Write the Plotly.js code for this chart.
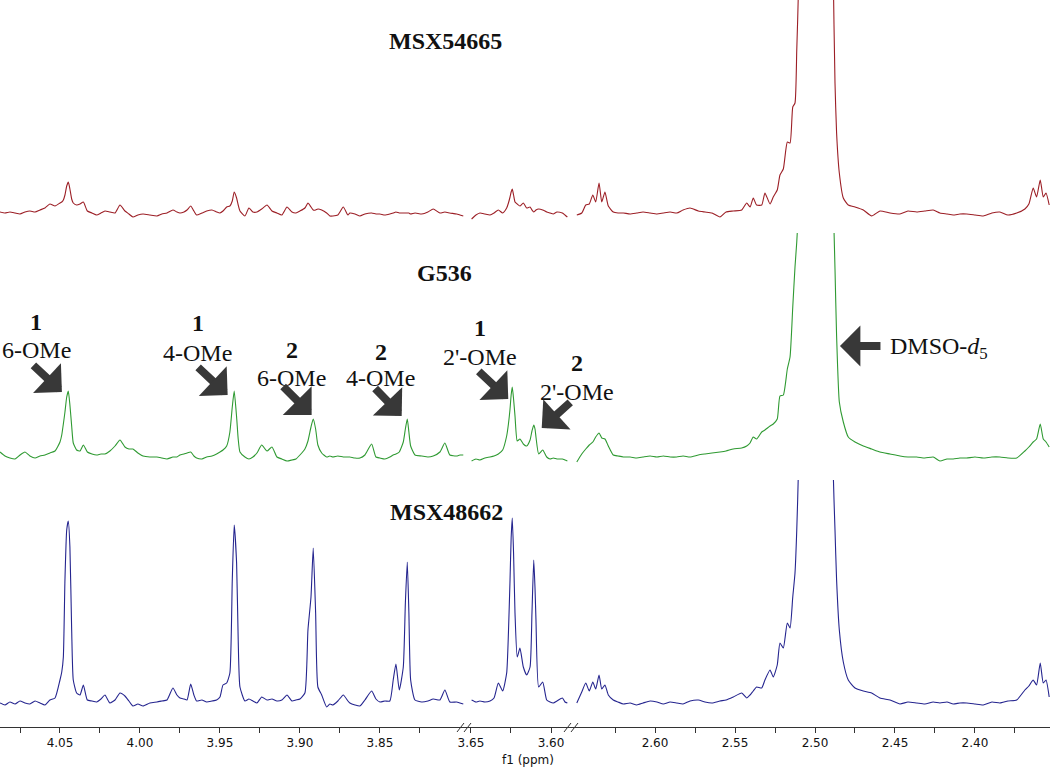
<!DOCTYPE html>
<html>
<head>
<meta charset="utf-8">
<script src="https://cdn.plot.ly/plotly-3.0.1.min.js"></script>
<style>
    html, body { margin: 0; padding: 0; background: #fff; }
    #chart { width: 1050px; height: 767px; }
</style>
</head>
<body>
<div id="chart"></div>
<script>
// ── 1H NMR (DMSO-d6), OMe region + solvent, three samples stacked ─────────

// chemical shift grids (ppm), one per axis segment
const leftShift = [
    4.0875, 4.0844, 4.0813, 4.0781, 4.0750, 4.0719, 4.0688, 4.0656, 4.0625, 4.0594, 4.0563, 4.0531,
    4.0500, 4.0489, 4.0479, 4.0469, 4.0458, 4.0448, 4.0438, 4.0427, 4.0417,
    4.0396, 4.0375, 4.0354, 4.0329, 4.0300, 4.0271, 4.0244, 4.0219, 4.0188, 4.0156, 4.0125, 4.0094, 4.0069, 4.0044, 4.0013, 3.9981, 3.9938, 3.9894, 3.9863, 3.9831,
    3.9794, 3.9769, 3.9750, 3.9725, 3.9706, 3.9683, 3.9663, 3.9646, 3.9613, 3.9583, 3.9550, 3.9521, 3.9500, 3.9481, 3.9458, 3.9438,
    3.9423, 3.9411, 3.9396, 3.9386, 3.9375,
    3.9344, 3.9319, 3.9294, 3.9269, 3.9239, 3.9206, 3.9175, 3.9144, 3.9113, 3.9081, 3.9050, 3.9025, 3.9000, 3.8969,
    3.8950, 3.8931, 3.8917, 3.8902, 3.8888, 3.8864, 3.8833, 3.8813, 3.8794, 3.8763, 3.8729, 3.8700,
    3.8688, 3.8656, 3.8625, 3.8594, 3.8552, 3.8525, 3.8500, 3.8469, 3.8438, 3.8417, 3.8400, 3.8379, 3.8354, 3.8341, 3.8329, 3.8319, 3.8308, 3.8281, 3.8239, 3.8200, 3.8167, 3.8125, 3.8094, 3.8063, 3.8021, 3.8000, 3.7979
];
const midShift = [
    3.6496, 3.6469, 3.6444, 3.6413, 3.6381, 3.6356, 3.6329, 3.6302, 3.6277, 3.6266, 3.6256,
    3.6249, 3.6242, 3.6234, 3.6225, 3.6211, 3.6194, 3.6173, 3.6152, 3.6131, 3.6119, 3.6108,
    3.6100, 3.6094, 3.6077, 3.6052, 3.6027, 3.6006, 3.5986, 3.5963, 3.5929, 3.5913, 3.5898
];
const rightShift = [
    2.6489, 2.6458, 2.6433, 2.6411, 2.6389, 2.6371, 2.6350, 2.6333, 2.6313, 2.6292,
    2.6261, 2.6231, 2.6198, 2.6156, 2.6114, 2.6075, 2.6031, 2.5988, 2.5948, 2.5906,
    2.5864, 2.5825, 2.5781, 2.5729, 2.5688, 2.5644, 2.5594, 2.5556, 2.5511, 2.5458,
    2.5427, 2.5406, 2.5386, 2.5365, 2.5333, 2.5313, 2.5281, 2.5261, 2.5236, 2.5219,
    2.5198, 2.5173, 2.5156, 2.5139, 2.5125, 2.5114, 2.5104, 2.5063, 2.5031, 2.4994,
    2.4956, 2.4919, 2.4886, 2.4875, 2.4865, 2.4848, 2.4823, 2.4792, 2.4750, 2.4698,
    2.4646, 2.4594, 2.4531, 2.4469, 2.4419, 2.4364, 2.4313, 2.4261, 2.4219, 2.4175,
    2.4136, 2.4094, 2.4052, 2.4000, 2.3948, 2.3894, 2.3844, 2.3794, 2.3739, 2.3688,
    2.3663, 2.3636, 2.3615, 2.3592, 2.3573, 2.3556, 2.3536
];

// intensities (a.u.) — MSX48662 (bottom)
const msx48662Left = [
    0, -2, 1, -1, 2, 0, -1, 2, 0, -2, 3, 5,
    23, 31, 46, 123, 173, 182, 156, 73, 23,
    10, 8, 18, 3, 2, 1, 4, 8, 0, 3, 10, 7, 2, -3, -1, -3, 0, 1, 2, 3,
    15, 8, 5, 4, 3, 19, 8, 2, 3, 1, 2, 3, 6, 18, 20, 30,
    123, 178, 140, 63, 16,
    2, 4, 2, 0, 6, 3, 4, 2, 3, 8, 2, 3, 4, 10,
    73, 106, 155, 90, 16, 8, -4, -1, -2, 2, 8, 2,
    0, -2, -3, 3, 12, 4, 1, 2, 2, 23, 39, 13, 36, 100, 141, 90, 23, 3, 1, 2, 4, 3, 13, 1, 1, 0, -1
];
const msx48662Mid = [
    3, 1, 2, 1, 2, 5, 20, 12, 30, 70, 123,
    165, 185, 150, 90, 46, 55, 36, 28, 36, 90, 143,
    115, 83, 16, 21, 3, 1, 0, 2, 5, 1, 0
];
const msx48662Right = [
    0, 11, 20, 12, 21, 14, 28, 14, 18, 8,
    3, 1, -1, 0, -2, 0, 2, 1, -1, 1,
    0, -1, 2, 3, 1, 0, 2, 3, 6, 10,
    5, 8, 12, 16, 15, 23, 33, 26, 38, 60,
    55, 80, 75, 106, 130, 173, 230, 800, 2000, 4000,
    2000, 800, 230, 173, 123, 73, 41, 23, 15, 12,
    10, 5, 3, -1, 1, 0, -1, 1, 0, 1,
    -1, 0, 0, -1, -2, 1, 0, 2, 3, 13,
    17, 23, 18, 40, 20, 23, 6
];

// G536 (middle)
const g536Left = [
    5, 1, -1, -2, 2, 5, 1, -1, 1, 2, 4, 6,
    15, 22, 33, 45, 60, 66, 52, 31, 14,
    7, 6, 12, 5, 3, 2, 3, 3, 6, 11, 17, 10, 8, 8, 4, 1, 0, 0, -1, -2,
    0, 0, 2, 3, 4, 5, 1, -1, -2, 0, 1, 3, 5, 7, 11, 25,
    50, 66, 40, 18, 5,
    0, -2, 0, 4, 12, 6, 10, 0, -2, -4, -3, -2, 2, 8,
    16, 30, 38, 28, 12, 4, 0, 1, 0, 1, 0, 0,
    0, -1, -1, 2, 13, 0, -1, -2, 0, 2, 3, 5, 15, 28, 38, 25, 11, 2, 1, 0, 1, 5, 14, 2, 1, 2, 2
];
const g536Mid = [
    -4, -2, -3, -1, 0, 1, 3, 7, 21, 33, 48,
    62, 70, 58, 41, 16, 18, 13, 11, 17, 26, 32,
    28, 20, 3, 7, 0, -2, -1, -2, -2, -3, -4
];
const g536Right = [
    -5, 3, 8, 12, 15, 20, 24, 19, 18, 11,
    2, 1, 0, 0, -1, 0, 1, 0, 1, 0,
    0, 1, 0, 2, 3, 4, 5, 6, 8, 9,
    11, 14, 20, 18, 25, 27, 31, 33, 38, 61,
    62, 88, 100, 150, 190, 215, 250, 800, 2000, 4000,
    2000, 800, 260, 188, 121, 55, 35, 20, 15, 11,
    8, 5, 3, 1, 0, 0, -1, 0, -4, -2,
    -2, -1, -1, 0, -1, 0, 0, -1, -1, 6,
    10, 15, 18, 33, 18, 15, 10
];

// MSX54665 (top)
const msx54665Left = [
    1, 0, 1, 0, -1, 1, 2, 1, 3, 5, 9, 7,
    10, 11, 13, 18, 27, 31, 24, 14, 10,
    8, 9, 11, 2, 0, -2, 0, 2, 1, 0, 8, 2, -1, -4, -2, -1, -2, -3, -1, 0,
    3, 1, 0, 1, 3, 7, 2, -2, 0, 2, 3, 1, 0, 2, 6, 7,
    12, 21, 15, 8, 2,
    -3, 5, 1, 1, 4, 8, 2, 0, -2, 6, 1, 0, 2, 5,
    10, 6, 3, 3, 4, 3, 0, -3, -3, -2, 6, -2,
    0, -1, -3, -1, 0, -1, -1, -2, -1, 0, 1, 0, 0, 0, 0, 0, -1, 0, -1, 1, 4, 0, 1, 0, -1, -2, -3
];
const msx54665Mid = [
    -6, -2, 0, -1, -2, 0, 3, 0, 5, 10, 16,
    21, 24, 18, 11, 9, 7, 10, 5, 6, 3, 1,
    2, 3, 4, 3, 1, 0, -1, 1, 0, -2, -4
];
const msx54665Right = [
    -2, 0, 8, 9, 18, 11, 30, 11, 21, 7,
    1, 0, 0, -1, 0, 1, 0, -1, 0, 1,
    0, 3, 5, 2, 1, 0, -4, 1, 2, 3,
    10, 6, 15, 8, 8, 20, 9, 16, 23, 38,
    44, 71, 70, 106, 110, 163, 220, 800, 2000, 4000,
    2000, 800, 240, 130, 80, 40, 15, 8, 6, 3,
    -3, 2, 0, -1, 2, 1, 2, 3, 0, -1,
    -2, -1, -1, -2, -3, 0, 1, -2, 0, 4,
    9, 25, 16, 33, 16, 20, 8
];

// axis ticks per segment
const leftTicks = [4.05, 4.00, 3.95, 3.90, 3.85];
const leftMinor = [4.075, 4.025, 3.975, 3.925, 3.875, 3.825];
const midTicks = [3.65, 3.60];
const midMinor = [3.625];
const rightTicks = [2.60, 2.55, 2.50, 2.45, 2.40];
const rightMinor = [2.625, 2.575, 2.525, 2.475, 2.425, 2.375];

const samples = [
    { name: 'MSX54665', yaxis: 'y3', color: '#9c1f26', seg: [msx54665Left, msx54665Mid, msx54665Right] },
    { name: 'G536',     yaxis: 'y2', color: '#2f9a32', seg: [g536Left, g536Mid, g536Right] },
    { name: 'MSX48662', yaxis: 'y',  color: '#25258f', seg: [msx48662Left, msx48662Mid, msx48662Right] },
];
const shifts = [leftShift, midShift, rightShift];
const xaxes = ['x', 'x2', 'x3'];

const traces = [];
samples.forEach(s => {
    s.seg.forEach((vals, i) => {
        traces.push({
            type: 'scatter',
            mode: 'lines',
            name: s.name,
            x: shifts[i],
            y: vals,
            xaxis: xaxes[i],
            yaxis: s.yaxis,
            line: { color: s.color, width: 1.1, shape: 'spline', smoothing: 0.5 },
            hoverinfo: 'skip',
        });
    });
});

const AX = '#333';
const tickFont = { family: 'DejaVu Sans, Verdana, sans-serif', size: 12, color: '#111' };
const serif = 'Liberation Serif, Times New Roman, serif';

function xAxis(domain, range, tickvals, minorvals) {
    return {
        domain: domain,
        range: range,
        anchor: 'y',
        tickmode: 'array',
        tickvals: tickvals,
        tickformat: '.2f',
        ticks: 'outside',
        ticklen: 5,
        tickcolor: AX,
        tickfont: tickFont,
        minor: { tickmode: 'array', tickvals: minorvals, ticks: 'outside', ticklen: 5, tickcolor: AX, showgrid: false },
        showline: true,
        linecolor: AX,
        linewidth: 1,
        showgrid: false,
        zeroline: false,
        fixedrange: true,
    };
}
const yHidden = (domain, range) => ({ domain, range, visible: false, fixedrange: true });

// pixel helpers for paper-space decorations (plot area 1050 x 727)
const px = v => v / 1050;
const py = v => (727 - v) / 727;

const breakMark = (x0, y0, x1, y1) => ({
    type: 'line', xref: 'paper', yref: 'paper',
    x0: px(x0), y0: py(y0), x1: px(x1), y1: py(y1),
    line: { color: AX, width: 1 },
});

const ARROW = '#383838';
const arrow = (xref, x, y, ax, ay) => ({
    xref: xref, yref: 'y2', x: x, y: y, ax: ax, ay: ay,
    text: '', showarrow: true, arrowhead: 1, arrowsize: 0.85, arrowwidth: 8,
    arrowcolor: ARROW, standoff: 0,
});
const label = (xref, yref, x, y, text, size, extra) => Object.assign({
    xref: xref, yref: yref, x: x, y: y, text: text, showarrow: false,
    xanchor: 'center', yanchor: 'middle',
    font: { family: serif, size: size, color: '#111' },
}, extra || {});

const annotations = [
    // sample names
    label('x', 'y3', 3.8088, 172, '<b>MSX54665</b>', 24),
    label('x', 'y2', 3.8094, 184, '<b>G536</b>', 24),
    label('x', 'y', 3.8081, 191, '<b>MSX48662</b>', 24),

    // peak assignments on G536
    label('x', 'y2', 4.0650, 135, '<b>1</b>', 24), label('x', 'y2', 4.0644, 107, '6-OMe', 24),
    arrow('x', 4.0488, 65, -30, -28),
    label('x', 'y2', 3.9638, 134, '<b>1</b>', 24), label('x', 'y2', 3.9638, 104, '4-OMe', 24),
    arrow('x', 3.9452, 62, -31, -29),
    label('x', 'y2', 3.9050, 107, '<b>2</b>', 24), label('x', 'y2', 3.9050, 79, '6-OMe', 24),
    arrow('x', 3.8927, 42, -30, -30),
    label('x', 'y2', 3.8494, 105, '<b>2</b>', 24), label('x', 'y2', 3.8494, 79, '4-OMe', 24),
    arrow('x', 3.8364, 41, -28, -29),
    label('x2', 'y2', 3.6444, 129, '<b>1</b>', 24), label('x2', 'y2', 3.6444, 100, "2'-OMe", 24),
    arrow('x2', 3.6267, 58, -31, -29),
    label('x3', 'y2', 2.6488, 94, '<b>2</b>', 24), label('x3', 'y2', 2.6488, 65, "2'-OMe", 24),
    arrow('x2', 3.6058, 29, 30, -27),
    label('x3', 'y2', 2.4544, 109, 'DMSO-<i>d</i><sub>5</sub>', 24, { xanchor: 'left' }),
    arrow('x3', 2.4844, 111, 42, 0),

    // axis title
    {
        xref: 'paper', yref: 'paper', x: px(528), y: py(760), text: 'f1 (ppm)',
        showarrow: false, xanchor: 'center', yanchor: 'middle',
        font: { family: 'DejaVu Sans, Verdana, sans-serif', size: 12, color: '#111' },
    },
];

const layout = {
    width: 1050,
    height: 767,
    margin: { l: 0, r: 0, t: 0, b: 40 },
    paper_bgcolor: '#fff',
    plot_bgcolor: '#fff',
    showlegend: false,
    xaxis: xAxis([0, px(466)], [4.0875, 3.7962], leftTicks, leftMinor),
    xaxis2: xAxis([px(466), px(572)], [3.6531, 3.5869], midTicks, midMinor),
    xaxis3: xAxis([px(572), 1], [2.6519, 2.3531], rightTicks, rightMinor),
    yaxis: yHidden([0, 247 / 727], [-24, 223]),
    yaxis2: yHidden([247 / 727, 494 / 727], [-23, 224]),
    yaxis3: yHidden([494 / 727, 1], [-20, 213]),
    shapes: [
        breakMark(457, 732, 464, 723), breakMark(464, 732, 471, 723),
        breakMark(564, 732, 571, 723), breakMark(571, 732, 578, 723),
    ],
    annotations: annotations,
};

Plotly.newPlot('chart', traces, layout, { displayModeBar: false, staticPlot: true });
</script>
</body>
</html>
